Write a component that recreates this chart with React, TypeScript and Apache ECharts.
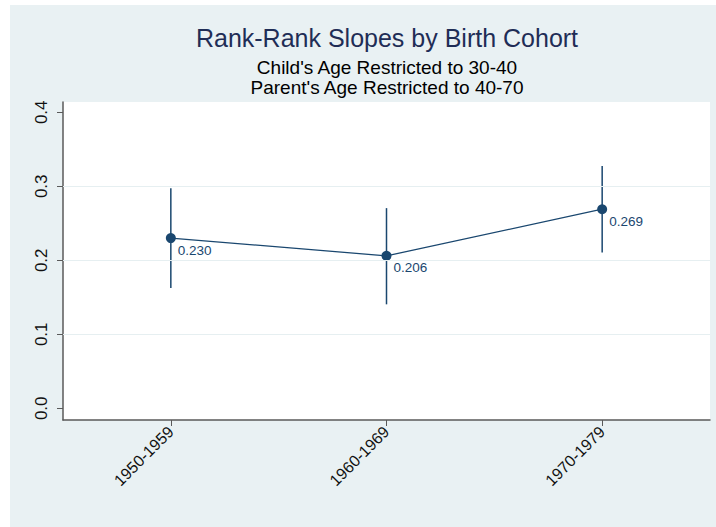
import React, { useEffect, useRef } from "react";
import * as echarts from "echarts";

const titleText = "Rank-Rank Slopes by Birth Cohort";
const subtitleLines = ["Child's Age Restricted to 30-40", "Parent's Age Restricted to 40-70"];
const cohorts = ["1950-1959", "1960-1969", "1970-1979"];
const slopes = [0.23, 0.206, 0.269];
const ciLower = [0.1625, 0.1405, 0.2105];
const ciUpper = [0.2975, 0.2705, 0.3275];
const yTicks = [0, 0.1, 0.2, 0.3, 0.4];
const gridValues = [0.1, 0.2, 0.3];

const NAVY = "#1A476F";
const BG = "#E9F1F3";
const FONT = "'Liberation Sans', Arial, Helvetica, sans-serif";

export default function App() {
  const ref = useRef<HTMLDivElement>(null);
  useEffect(() => {
    if (!ref.current) return;
    const chart = echarts.init(ref.current, undefined, { renderer: "svg" });
    const option: any = {
      animation: false,
      backgroundColor: "#ffffff",
      graphic: [
        {
          type: "rect",
          z: -10,
          shape: { x: 10, y: 5, width: 706, height: 522 },
          style: { fill: BG },
          silent: true,
        },
        {
          type: "text",
          x: 387,
          y: 38,
          style: {
            text: titleText,
            fill: "#1F2D56",
            font: `25px ${FONT}`,
            align: "center",
            verticalAlign: "middle",
          },
        },
        ...subtitleLines.map((t, i) => ({
          type: "text",
          x: 387,
          y: 67.5 + i * 20,
          style: {
            text: t,
            fill: "#000000",
            font: `19px ${FONT}`,
            align: "center",
            verticalAlign: "middle",
          },
        })),
      ],
      grid: {
        left: 63,
        right: 6,
        top: 102,
        bottom: 107,
        show: true,
        backgroundColor: "#ffffff",
        borderWidth: 0,
        containLabel: false,
      },
      xAxis: {
        type: "category",
        data: cohorts,
        boundaryGap: true,
        axisLine: { show: true, onZero: false, lineStyle: { color: "#5a5a5a", width: 1.5 } },
        axisTick: { show: true, alignWithLabel: true, length: 6, lineStyle: { color: "#5a5a5a", width: 1 } },
        axisLabel: {
          rotate: 45,
          margin: 9,
          color: "#111",
          fontSize: 16,
          fontFamily: FONT,
        },
        splitLine: { show: false },
      },
      yAxis: {
        type: "value",
        min: -0.0158,
        max: 0.4139,
        axisLine: { show: true, lineStyle: { color: "#5a5a5a", width: 1.5 } },
        axisTick: { show: true, length: 6, customValues: yTicks, lineStyle: { color: "#5a5a5a", width: 1 } },
        axisLabel: {
          customValues: yTicks,
          rotate: 90,
          margin: 13,
          color: "#111",
          fontSize: 17,
          fontFamily: FONT,
          formatter: (v: number) => v.toFixed(1),
        },
        splitLine: { show: false },
      },
      series: [
        {
          type: "line",
          data: [],
          z: 1,
          silent: true,
          markLine: {
            silent: true,
            symbol: "none",
            label: { show: false },
            lineStyle: { color: "#E6EFF1", width: 1.2, type: "solid" },
            data: gridValues.map((v) => ({ yAxis: v })),
          },
        },
        {
          type: "custom",
          z: 2,
          data: cohorts.map((_, i) => [i, ciLower[i], ciUpper[i]]),
          renderItem: (params: any, api: any) => {
            const p1 = api.coord([api.value(0), api.value(1)]);
            const p2 = api.coord([api.value(0), api.value(2)]);
            return {
              type: "line",
              shape: { x1: p1[0], y1: p1[1], x2: p2[0], y2: p2[1] },
              style: { stroke: NAVY, lineWidth: 1.5 },
            };
          },
        },
        {
          type: "line",
          z: 3,
          data: slopes,
          symbol: "circle",
          symbolSize: 10,
          showAllSymbol: true,
          lineStyle: { color: NAVY, width: 1.3 },
          itemStyle: { color: NAVY },
          label: {
            show: true,
            position: [12, 17],
            align: "left",
            verticalAlign: "middle",
            color: NAVY,
            fontSize: 13.5,
            fontFamily: FONT,
            formatter: (p: any) => Number(p.value).toFixed(3),
          },
        },
      ],
    };
    chart.setOption(option);
    return () => chart.dispose();
  }, []);
  return (
    <div
      ref={ref}
      style={{ position: "absolute", left: 0, top: 0, width: 716, height: 527 }}
    />
  );
}
